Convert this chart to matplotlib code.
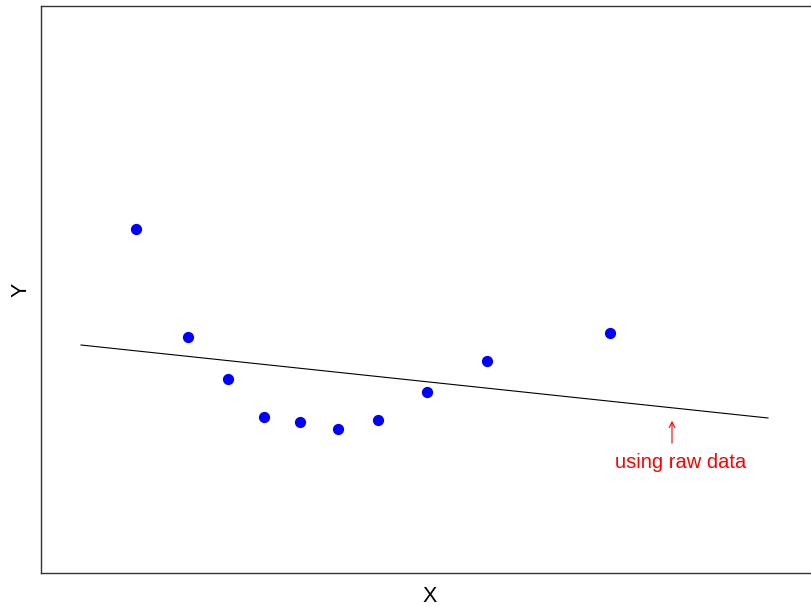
import matplotlib.pyplot as plt

plt.rcParams['font.family'] = ['Liberation Sans', 'DejaVu Sans']

# observed points
x_pts = [1.36, 1.88, 2.28, 2.64, 3.00, 3.38, 3.78, 4.27, 4.87, 6.10]
y_pts = [3.45, 2.37, 1.95, 1.57, 1.52, 1.45, 1.54, 1.82, 2.13, 2.41]

# fitted line on raw data
x_fit = [0.81, 7.68]
y_fit = [2.29, 1.56]

note_text = "using raw data"
note_xy = (6.72, 1.56)
note_text_xy = (6.81, 1.11)

fig = plt.figure(figsize=(8.12, 6.08), dpi=100)
ax = fig.add_axes([41 / 812, 35 / 608, 778 / 812, 567 / 608])

ax.plot(x_fit, y_fit, color='black', lw=0.8)
ax.scatter(x_pts, y_pts, s=50, color='#0000ff', zorder=3)

ax.annotate('', xy=note_xy, xytext=(note_xy[0], note_xy[1] - 0.28),
            arrowprops=dict(arrowstyle='->', color='red', lw=0.8))
ax.text(note_text_xy[0], note_text_xy[1], note_text, color='red',
        fontsize=14.5, ha='center', va='center')

ax.set_xlim(0.41, 8.19)
ax.set_ylim(0.01, 5.68)
ax.set_xticks([])
ax.set_yticks([])
ax.set_xlabel('X', fontsize=15.5, labelpad=9)
ax.set_ylabel('Y', fontsize=15.5, labelpad=7)
for s in ax.spines.values():
    s.set_color('#333333')
    s.set_linewidth(1.0)
ax.spines['right'].set_visible(False)

fig.savefig('out.png', dpi=100)
